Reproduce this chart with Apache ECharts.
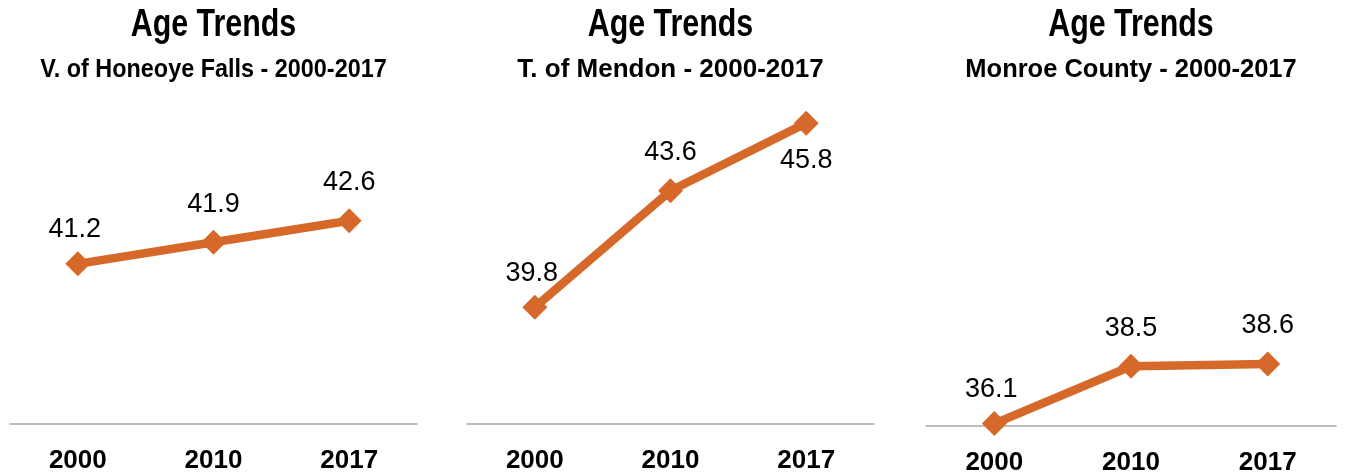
<!DOCTYPE html>
<html>
<head>
<meta charset="utf-8">
<title>Age Trends</title>
<script src="https://cdn.jsdelivr.net/npm/echarts@6/dist/echarts.min.js"></script>
<style>
  html, body { margin: 0; padding: 0; background: #ffffff; }
  #chart { width: 1346px; height: 476px; }
</style>
</head>
<body>
<div id="chart"></div>
<script>
// Median age by census year for three places
const years = ['2000', '2010', '2017'];
const honeoyeFalls = [41.2, 41.9, 42.6];
const mendon = [39.8, 43.6, 45.8];
const monroeCounty = [36.1, 38.5, 38.6];

const panelTitle = 'Age Trends';
const panelSubtitles = [
  'V. of Honeoye Falls - 2000-2017',
  'T. of Mendon - 2000-2017',
  'Monroe County - 2000-2017'
];
const panelSeries = [honeoyeFalls, mendon, monroeCounty];

// Layout of the three side-by-side panels
const grids = [
  { left: 10, top: 116, width: 407, height: 308 },
  { left: 467, top: 117, width: 407, height: 307 },
  { left: 926, top: 115.5, width: 410, height: 312 }
];
const yRanges = [[36, 46], [36, 46], [36, 49]];
// horizontal squeeze applied to each subtitle
const subtitleSqueeze = [0.9, 1.0, 0.98];

const ORANGE = '#D6692A';
const sans = '"Liberation Sans", Arial, sans-serif';

// Headings are drawn as text elements squeezed horizontally for a condensed look
const headings = [];
grids.forEach((g, i) => {
  const cx = g.left + g.width / 2;
  headings.push({
    type: 'text',
    x: cx, y: 26,
    scaleX: 0.8,
    style: {
      text: panelTitle,
      font: 'bold 38px ' + sans,
      fill: '#000',
      textAlign: 'center',
      textVerticalAlign: 'middle'
    }
  });
  headings.push({
    type: 'text',
    x: cx, y: 70,
    scaleX: subtitleSqueeze[i],
    style: {
      text: panelSubtitles[i],
      font: 'bold 26px ' + sans,
      fill: '#000',
      textAlign: 'center',
      textVerticalAlign: 'middle'
    }
  });
});

const option = {
  backgroundColor: '#ffffff',
  animation: false,
  graphic: headings,
  grid: grids,
  xAxis: grids.map((g, i) => ({
    type: 'category',
    gridIndex: i,
    data: years,
    boundaryGap: true,
    axisLine: { show: true, lineStyle: { color: '#A6A6A6', width: 1.5 } },
    axisTick: { show: false },
    axisLabel: {
      margin: 24,
      fontFamily: sans, fontWeight: 'bold', fontSize: 26, color: '#000'
    },
    splitLine: { show: false }
  })),
  yAxis: grids.map((g, i) => ({
    type: 'value',
    gridIndex: i,
    min: yRanges[i][0],
    max: yRanges[i][1],
    show: false,
    splitLine: { show: false }
  })),
  series: panelSeries.map((vals, i) => ({
    type: 'line',
    xAxisIndex: i,
    yAxisIndex: i,
    data: vals.map((v, j) => {
      // the last Mendon value sits near the top, so its label goes underneath
      if (i === 1 && j === vals.length - 1) {
        return { value: v, label: { position: 'bottom', distance: 11 } };
      }
      // first-year labels sit a little closer to their marker
      if (j === 0) {
        return { value: v, label: { distance: 8, offset: [-3, 0] } };
      }
      return v;
    }),
    symbol: 'diamond',
    symbolSize: [25, 25],
    showAllSymbol: true,
    lineStyle: { color: ORANGE, width: 8.5 },
    itemStyle: { color: ORANGE },
    label: {
      show: true,
      position: 'top',
      distance: 12,
      fontFamily: sans,
      fontSize: 27,
      color: '#000',
      formatter: p => p.value.toFixed(1)
    },
    z: 3
  }))
};

const chart = echarts.init(document.getElementById('chart'), null, { renderer: 'canvas' });
chart.setOption(option);
</script>
</body>
</html>
